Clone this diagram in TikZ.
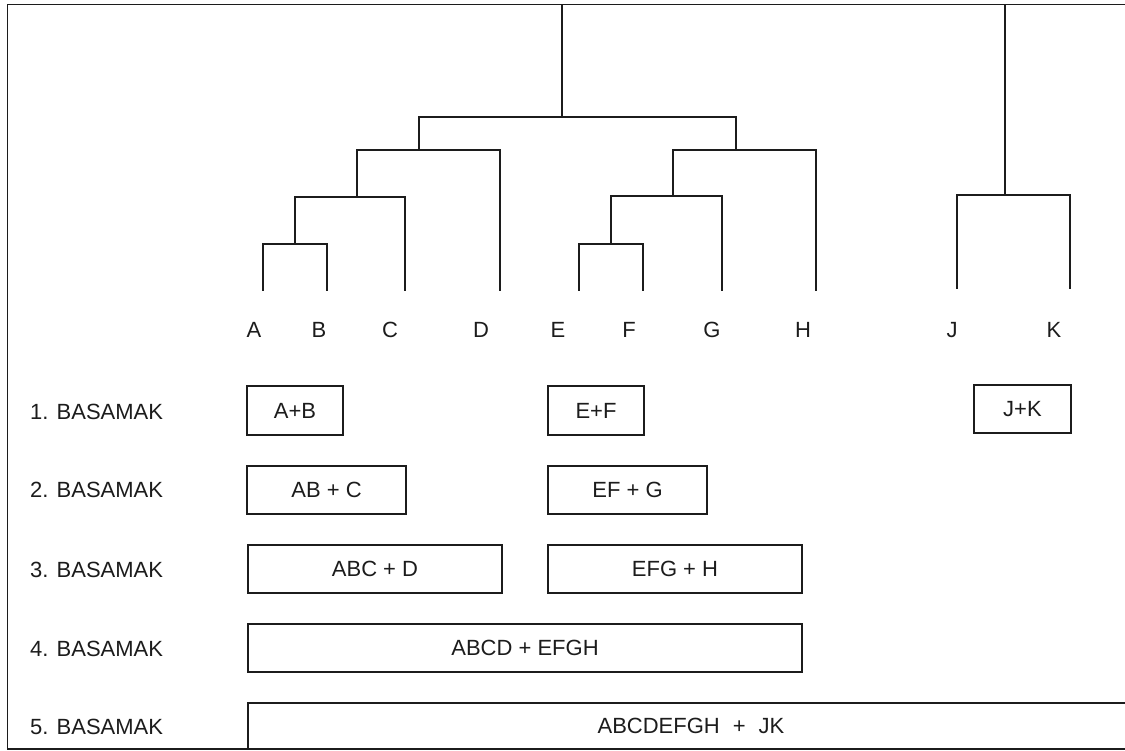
\documentclass[tikz,border=0pt]{standalone}
\usepackage{fontspec}
\setmainfont{Liberation Sans}
\definecolor{ink}{RGB}{28,28,28}
\begin{document}
\begin{tikzpicture}[x=1pt,y=-1pt,
  tree/.style={draw=ink,line width=1.8pt},
  leaf/.style={inner sep=0pt,text=ink,font=\fontsize{22}{26}\selectfont},
  steplabel/.style={inner sep=0pt,anchor=west,text=ink,font=\fontsize{22}{26}\selectfont},
  stepbox/.style={draw=ink,line width=1.7pt,rectangle,inner sep=0pt,text=ink,
    font=\fontsize{22}{26}\selectfont,minimum height=48pt}]
\useasboundingbox (0,0) rectangle (1125,751);
\clip (0,0) rectangle (1125,751);

% outer frame (right side runs off the page)
\coordinate (fTL) at (7.5,4.5);
\coordinate (fTR) at (1130,4.5);
\coordinate (fBL) at (7.5,749);
\coordinate (fBR) at (1130,749);
\draw[tree] (fTR) -- (fTL) -- (fBL) -- (fBR);

% leaf ends of the dendrogram
\coordinate (A) at (263,291);
\coordinate (B) at (327,291);
\coordinate (C) at (405,291);
\coordinate (D) at (500,291);
\coordinate (E) at (579,291);
\coordinate (F) at (643,291);
\coordinate (G) at (722,291);
\coordinate (H) at (816,291);
\coordinate (J) at (957,289);
\coordinate (K) at (1070,289);

% joining points
\coordinate (jAB)   at (295,244);
\coordinate (jABC)  at (357,197);
\coordinate (jABCD) at (419,150);
\coordinate (jAH)   at (562,117);
\coordinate (jEF)   at (611,244);
\coordinate (jEFG)  at (673,196);
\coordinate (jEFGH) at (736,150);
\coordinate (jJK)   at (1005,195);
\coordinate (rootL) at (562,4.5);
\coordinate (rootR) at (1005,4.5);

% dendrogram branches
\draw[tree] (A) |- (jAB) -| (B);
\draw[tree] (jAB) |- (jABC) -| (C);
\draw[tree] (jABC) |- (jABCD) -| (D);
\draw[tree] (jABCD) |- (jAH) -| (jEFGH);
\draw[tree] (E) |- (jEF) -| (F);
\draw[tree] (jEF) |- (jEFG) -| (G);
\draw[tree] (jEFG) |- (jEFGH) -| (H);
\draw[tree] (jAH) -- (rootL);
\draw[tree] (J) |- (jJK) -| (K);
\draw[tree] (jJK) -- (rootR);

% leaf names
\node[leaf] (lA) at (254,330) {A};
\node[leaf] (lB) at (319,330) {B};
\node[leaf] (lC) at (390,330) {C};
\node[leaf] (lD) at (481,330) {D};
\node[leaf] (lE) at (558,330) {E};
\node[leaf] (lF) at (629,330) {F};
\node[leaf] (lG) at (712,330) {G};
\node[leaf] (lH) at (803,330) {H};
\node[leaf] (lJ) at (952,330) {J};
\node[leaf] (lK) at (1054,330) {K};

% step names
\node[steplabel] (s1) at (30,412) {1. BASAMAK};
\node[steplabel] (s2) at (30,490) {2. BASAMAK};
\node[steplabel] (s3) at (30,570) {3. BASAMAK};
\node[steplabel] (s4) at (30,649) {4. BASAMAK};
\node[steplabel] (s5) at (30,727) {5. BASAMAK};

% merges made at each step
\node[stepbox,minimum width=96pt,minimum height=49pt] (b1a) at (295,410.5) {A+B};
\node[stepbox,minimum width=96pt,minimum height=49pt] (b1e) at (596,410.5) {E+F};
\node[stepbox,minimum width=97pt] (b1j) at (1022.5,409) {J+K};
\node[stepbox,minimum width=159pt] (b2a) at (326.5,490) {AB + C};
\node[stepbox,minimum width=159pt] (b2e) at (627.5,490) {EF + G};
\node[stepbox,minimum width=254pt] (b3a) at (375,569) {ABC + D};
\node[stepbox,minimum width=254pt] (b3e) at (675,569) {EFG + H};
\node[stepbox,minimum width=554pt] (b4) at (525,648) {ABCD + EFGH};
\node[stepbox,minimum width=886pt,minimum height=46pt] (b5) at (691,726)
  {ABCDEFGH\hspace{13pt}+\hspace{13pt}JK};
\end{tikzpicture}
\end{document}
